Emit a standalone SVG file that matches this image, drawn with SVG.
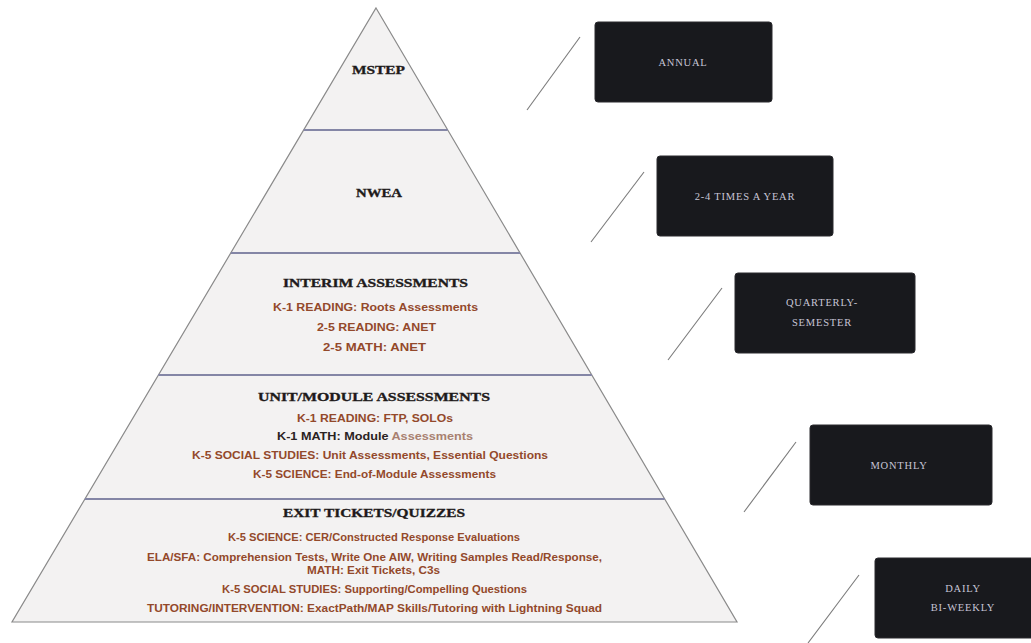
<svg xmlns="http://www.w3.org/2000/svg" width="1031" height="643" viewBox="0 0 1031 643">
  <style>
    .tier { fill: #f3f2f2; stroke: none; }
    .outline { fill: none; stroke: #8a8a8a; stroke-width: 1.2; }
    .divider { stroke: #8486a6; stroke-width: 2; }
    .head { font-family: "Liberation Serif", serif; font-weight: bold; font-size: 12.5px; fill: #1e1a1a; stroke: #1e1a1a; stroke-width: 0.35px; }
    .body { font-family: "Liberation Sans", sans-serif; font-weight: bold; font-size: 10px; fill: #93492b; }
    .dark { fill: #2a2222; }
    .box { fill: #18191d; stroke: #2a2a2e; stroke-width: 1; }
    .boxtxt { font-family: "Liberation Serif", serif; font-size: 10.5px; fill: #c7c5d6; text-anchor: middle; letter-spacing: 0.8px; }
    .conn { stroke: #7a7a7a; stroke-width: 1.1; fill: none; }
  </style>
  <rect width="1031" height="643" fill="#ffffff"/>

  <g id="tier-mstep">
    <polygon class="tier" points="376,8 447.7,130 303.7,130"/>
    <text class="head" x="352" y="74" textLength="53" lengthAdjust="spacingAndGlyphs">MSTEP</text>
  </g>
  <g id="tier-nwea">
    <polygon class="tier" points="303.7,130 447.7,130 520,253 230.8,253"/>
    <text class="head" x="356" y="197" textLength="46" lengthAdjust="spacingAndGlyphs">NWEA</text>
  </g>
  <g id="tier-interim">
    <polygon class="tier" points="230.8,253 520,253 591.8,375 158.4,375"/>
    <text class="head" x="283" y="287" textLength="185" lengthAdjust="spacingAndGlyphs">INTERIM ASSESSMENTS</text>
    <text class="body" x="273" y="311" textLength="205" lengthAdjust="spacingAndGlyphs">K-1 READING: Roots Assessments</text>
    <text class="body" x="317" y="331" textLength="119" lengthAdjust="spacingAndGlyphs">2-5 READING: ANET</text>
    <text class="body" x="323" y="351" textLength="103" lengthAdjust="spacingAndGlyphs">2-5 MATH: ANET</text>
  </g>
  <g id="tier-unit">
    <polygon class="tier" points="158.4,375 591.8,375 664.7,499 84.9,499"/>
    <text class="head" x="258" y="401" textLength="232" lengthAdjust="spacingAndGlyphs">UNIT/MODULE ASSESSMENTS</text>
    <text class="body" x="297" y="422" textLength="156" lengthAdjust="spacingAndGlyphs">K-1 READING: FTP, SOLOs</text>
    <text class="body" x="277" y="440" textLength="196" lengthAdjust="spacingAndGlyphs"><tspan class="dark">K-1 MATH: Module </tspan><tspan fill="#a88070">Assessments</tspan></text>
    <text class="body" x="192" y="459" textLength="356" lengthAdjust="spacingAndGlyphs">K-5 SOCIAL STUDIES:  Unit Assessments, Essential Questions</text>
    <text class="body" x="253" y="478" textLength="243" lengthAdjust="spacingAndGlyphs">K-5 SCIENCE:  End-of-Module Assessments</text>
  </g>
  <g id="tier-exit">
    <polygon class="tier" points="84.9,499 664.7,499 737,622 12,622"/>
    <text class="head" x="283" y="517" textLength="182" lengthAdjust="spacingAndGlyphs">EXIT TICKETS/QUIZZES</text>
    <text class="body" x="228" y="541" textLength="292" lengthAdjust="spacingAndGlyphs">K-5 SCIENCE: CER/Constructed Response Evaluations</text>
    <text class="body" x="147" y="561" textLength="455" lengthAdjust="spacingAndGlyphs">ELA/SFA: Comprehension Tests, Write One AIW, Writing Samples Read/Response,</text>
    <text class="body" x="307" y="574" textLength="133" lengthAdjust="spacingAndGlyphs">MATH: Exit Tickets, C3s</text>
    <text class="body" x="222" y="593" textLength="305" lengthAdjust="spacingAndGlyphs">K-5 SOCIAL STUDIES: Supporting/Compelling Questions</text>
    <text class="body" x="147" y="612" textLength="455" lengthAdjust="spacingAndGlyphs">TUTORING/INTERVENTION: ExactPath/MAP Skills/Tutoring with Lightning Squad</text>
  </g>

  <g id="pyramid-lines">
    <polygon class="outline" points="376,8 737,622 12,622"/>
    <line class="divider" x1="303.7" y1="130" x2="447.7" y2="130"/>
    <line class="divider" x1="230.8" y1="253" x2="520" y2="253"/>
    <line class="divider" x1="158.4" y1="375" x2="591.8" y2="375"/>
    <line class="divider" x1="84.9" y1="499" x2="664.7" y2="499"/>
  </g>

  <g id="box-annual">
    <rect class="box" x="595" y="22" width="177" height="80" rx="3"/>
    <text class="boxtxt" x="683" y="66">ANNUAL</text>
  </g>
  <g id="box-24times">
    <rect class="box" x="657" y="156" width="176" height="80" rx="3"/>
    <text class="boxtxt" x="745" y="200">2-4 TIMES A YEAR</text>
  </g>
  <g id="box-quarterly">
    <rect class="box" x="735" y="273" width="180" height="80" rx="3"/>
    <text class="boxtxt" x="822" y="306">QUARTERLY-</text>
    <text class="boxtxt" x="822" y="326">SEMESTER</text>
  </g>
  <g id="box-monthly">
    <rect class="box" x="810" y="425" width="182" height="80" rx="3"/>
    <text class="boxtxt" x="899" y="469">MONTHLY</text>
  </g>
  <g id="box-daily">
    <rect class="box" x="875" y="558" width="160" height="80" rx="3"/>
    <text class="boxtxt" x="963" y="592">DAILY</text>
    <text class="boxtxt" x="963" y="611">BI-WEEKLY</text>
  </g>

  <g id="connectors">
    <line class="conn" x1="580" y1="37" x2="527" y2="110"/>
    <line class="conn" x1="644" y1="172" x2="591" y2="242"/>
    <line class="conn" x1="722" y1="288" x2="668" y2="360"/>
    <line class="conn" x1="796" y1="442" x2="744" y2="512"/>
    <line class="conn" x1="859" y1="575" x2="808" y2="643"/>
  </g>
</svg>
